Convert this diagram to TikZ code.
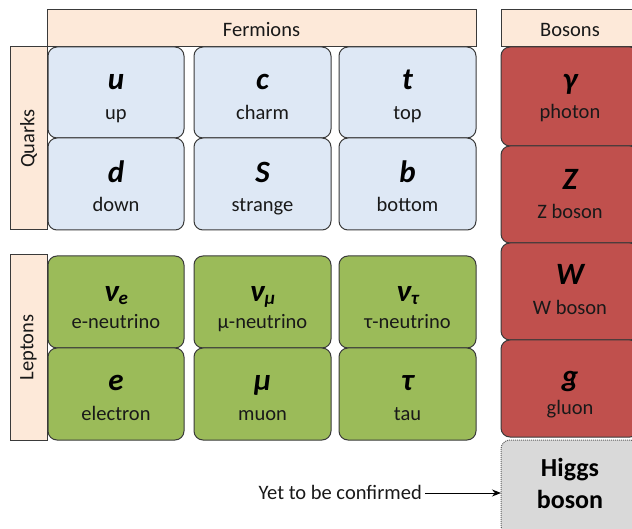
\documentclass[tikz,border=0pt]{standalone}
\usepackage{fontspec}
\setmainfont{Carlito}
\usetikzlibrary{arrows.meta}
\definecolor{peach}{HTML}{FDE9D9}
\definecolor{qblue}{HTML}{DEE8F5}
\definecolor{lgreen}{HTML}{9BBB59}
\definecolor{bred}{HTML}{C0504D}
\definecolor{hgrey}{HTML}{D9D9D9}
\definecolor{edge}{HTML}{3A3A3A}
\newcommand{\symb}[1]{{\fontsize{31}{31}\selectfont\bfseries\itshape #1}}
\newcommand{\nusub}[1]{\symb{ν}{\fontsize{19}{19}\selectfont\bfseries\itshape\raisebox{-2pt}{#1}}}
\begin{document}
\begin{tikzpicture}[x=1pt,y=-1pt,
  cellbox/.style={draw=edge, line width=1pt, rounded corners=9pt, inner sep=0pt, outer sep=0pt},
  headbox/.style={draw=edge, line width=1pt, fill=peach, inner sep=0pt, outer sep=0pt},
  symtext/.style={anchor=base, inner sep=0pt, text=black},
  subtext/.style={anchor=base, inner sep=0pt, font=\fontsize{20.5}{20.5}\selectfont, text=black!90},
  sidetext/.style={rotate=90, inner sep=0pt, font=\fontsize{20.5}{20.5}\selectfont, text=black!90}]
\useasboundingbox (0,0) rectangle (632,529);
\clip (0,0) rectangle (632,529);
% headers
\node[headbox, minimum width=429pt, minimum height=37pt] (ferm) at (261.5,28.5) {};
\node[subtext] (fermt) at (261.5,37) {Fermions};
\node[headbox, minimum width=139pt, minimum height=37pt] (bos) at (570.5,28.5) {};
\node[subtext] (bost) at (570,37) {Bosons};
\node[headbox, minimum width=37pt, minimum height=183pt] (quarks) at (28.5,138.5) {};
\node[sidetext] (quarkst) at (quarks.center) {Quarks};
\node[headbox, minimum width=37pt, minimum height=185pt] (leptons) at (28.5,347.5) {};
\node[sidetext] (leptonst) at (leptons.center) {Leptons};
% quarks
\node[cellbox, fill=qblue, minimum width=136pt, minimum height=91pt] (u) at (116,92.5) {};
\node[cellbox, fill=qblue, minimum width=137pt, minimum height=91pt] (c) at (262.5,92.5) {};
\node[cellbox, fill=qblue, minimum width=137pt, minimum height=91pt] (t) at (407.5,92.5) {};
\node[cellbox, fill=qblue, minimum width=136pt, minimum height=92pt] (d) at (116,184) {};
\node[cellbox, fill=qblue, minimum width=137pt, minimum height=92pt] (s) at (262.5,184) {};
\node[cellbox, fill=qblue, minimum width=137pt, minimum height=92pt] (b) at (407.5,184) {};
\node[symtext] (ut) at (116,90) {\symb{u}};
\node[subtext] (uts) at (116,120) {up};
\node[symtext] (ct) at (262.5,90) {\symb{c}};
\node[subtext] (cts) at (262.5,120) {charm};
\node[symtext] (tt) at (407.5,90) {\symb{t}};
\node[subtext] (tts) at (407.5,120) {top};
\node[symtext] (dt) at (116,183) {\symb{d}};
\node[subtext] (dts) at (116,212) {down};
\node[symtext] (st) at (262.5,183) {\symb{S}};
\node[subtext] (sts) at (262.5,212) {strange};
\node[symtext] (bt) at (407.5,183) {\symb{b}};
\node[subtext] (bts) at (407.5,212) {bottom};
% leptons
\node[cellbox, fill=lgreen, minimum width=136pt, minimum height=92pt] (ne) at (116,302) {};
\node[cellbox, fill=lgreen, minimum width=137pt, minimum height=92pt] (nm) at (262.5,302) {};
\node[cellbox, fill=lgreen, minimum width=137pt, minimum height=92pt] (nt) at (407.5,302) {};
\node[cellbox, fill=lgreen, minimum width=136pt, minimum height=92pt] (e) at (116,394) {};
\node[cellbox, fill=lgreen, minimum width=137pt, minimum height=92pt] (m) at (262.5,394) {};
\node[cellbox, fill=lgreen, minimum width=137pt, minimum height=92pt] (ta) at (407.5,394) {};
\node[symtext] (net) at (116,302) {\nusub{e}};
\node[subtext] (nets) at (116,329) {e-neutrino};
\node[symtext] (nmt) at (262.5,302) {\nusub{μ}};
\node[subtext] (nmts) at (262.5,329) {μ-neutrino};
\node[symtext] (ntt) at (407.5,302) {\nusub{τ}};
\node[subtext] (ntts) at (407.5,329) {τ-neutrino};
\node[symtext] (et) at (116,390) {\symb{e}};
\node[subtext] (ets) at (116,420) {electron};
\node[symtext] (mt) at (262.5,390) {\symb{μ}};
\node[subtext] (mts) at (262.5,420) {muon};
\node[symtext] (tat) at (407.5,390) {\symb{τ}};
\node[subtext] (tats) at (407.5,420) {tau};
% bosons
\node[cellbox, fill=bred, minimum width=138pt, minimum height=99pt] (gam) at (570,96.5) {};
\node[cellbox, fill=bred, minimum width=138pt, minimum height=97pt] (z) at (570,194.5) {};
\node[cellbox, fill=bred, minimum width=138pt, minimum height=97pt] (w) at (570,291.5) {};
\node[cellbox, fill=bred, minimum width=138pt, minimum height=97pt] (g) at (570,388.5) {};
\node[cellbox, fill=hgrey, draw=edge!80, densely dotted, minimum width=138pt, minimum height=95pt] (h) at (570,487.5) {};
\node[symtext] (gamt) at (570,90) {\symb{γ}};
\node[subtext] (gamts) at (570,119) {photon};
\node[symtext] (zt) at (570,190) {\symb{Z}};
\node[subtext] (zts) at (570,219) {Z boson};
\node[symtext] (wt) at (570,285) {\symb{W}};
\node[subtext] (wts) at (570,315) {W boson};
\node[symtext] (gt) at (570,386) {\symb{g}};
\node[subtext] (gts) at (570,414) {gluon};
\node[symtext, font=\fontsize{26}{26}\selectfont\bfseries] (ht) at (570,476) {Higgs};
\node[symtext, font=\fontsize{26}{26}\selectfont\bfseries] (hts) at (570,508) {boson};
% note
\node[subtext, anchor=base east, inner xsep=3pt] (note) at (425,499) {Yet to be confirmed};
\draw[line width=1pt, -{Stealth[length=9pt,width=7pt]}] ([yshift=6pt]note.base east) -- ([yshift=6pt]note.base east -| h.west);
\end{tikzpicture}
\end{document}
